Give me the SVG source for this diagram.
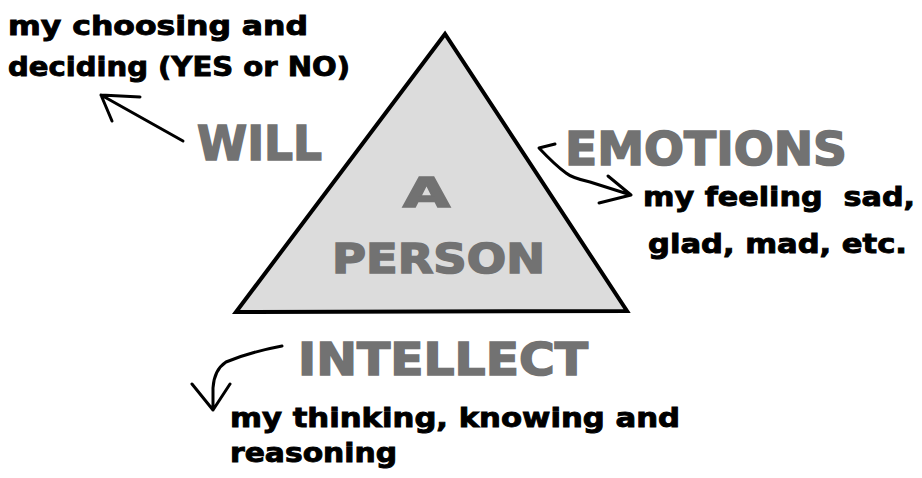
<svg xmlns="http://www.w3.org/2000/svg" width="922" height="478" viewBox="0 0 922 478">
<style>
.desc{font-family:"DejaVu Sans","Liberation Sans",sans-serif;font-weight:bold;font-size:26px;fill:#000;stroke:#000;stroke-width:0.9;white-space:pre}
.big{font-family:"DejaVu Sans","Liberation Sans",sans-serif;font-weight:bold;fill:#727272;stroke:#727272;stroke-width:1.6}
.conn{fill:none;stroke:#000;stroke-width:3;stroke-linecap:round;stroke-linejoin:round}
</style>
<rect width="922" height="478" fill="#fff"/>
<g id="person">
<polygon points="445,34 236,312 627,311" fill="#dcdcdc" stroke="#000" stroke-width="4" stroke-linejoin="miter"/>
<text class="big" x="403" y="207" font-size="41" textLength="47" lengthAdjust="spacingAndGlyphs">A</text>
<text class="big" x="332" y="273" font-size="41" textLength="213" lengthAdjust="spacingAndGlyphs">PERSON</text>
</g>
<g id="will">
<text class="big" x="197" y="160" font-size="48" textLength="125" lengthAdjust="spacingAndGlyphs">WILL</text>
<text class="desc" x="8" y="35" textLength="300" lengthAdjust="spacingAndGlyphs">my choosing and</text>
<text class="desc" x="8" y="76" textLength="342" lengthAdjust="spacingAndGlyphs">deciding (YES or NO)</text>
</g>
<g id="emotions">
<text class="big" x="565" y="165" font-size="46" textLength="282" lengthAdjust="spacingAndGlyphs">EMOTIONS</text>
<text class="desc" x="643" y="206" textLength="272" lengthAdjust="spacingAndGlyphs" xml:space="preserve">my feeling  sad,</text>
<text class="desc" x="648" y="253" textLength="259" lengthAdjust="spacingAndGlyphs">glad, mad, etc.</text>
</g>
<g id="intellect">
<text class="big" x="298" y="375" font-size="45" textLength="290" lengthAdjust="spacingAndGlyphs">INTELLECT</text>
<text class="desc" x="230" y="427" textLength="450" lengthAdjust="spacingAndGlyphs">my thinking, knowing and</text>
<text class="desc" x="230" y="462" textLength="167" lengthAdjust="spacingAndGlyphs">reasoning</text>
</g>
<g id="connectors">
<path class="conn" d="M183,141 L101,95 M101,95 L140,97 M101,95 L112,121"/>
<path class="conn" d="M555,144 L539,148 Q555,165 566,173 Q572,178 590,182 L631,195 M631,195 L608,176 M631,195 L599,203"/>
<path class="conn" d="M282,346 Q250,352 226,362 Q214,370 213,388 L213,410 M213,410 L192,384 M213,410 L230,384"/>
</g>
</svg>
